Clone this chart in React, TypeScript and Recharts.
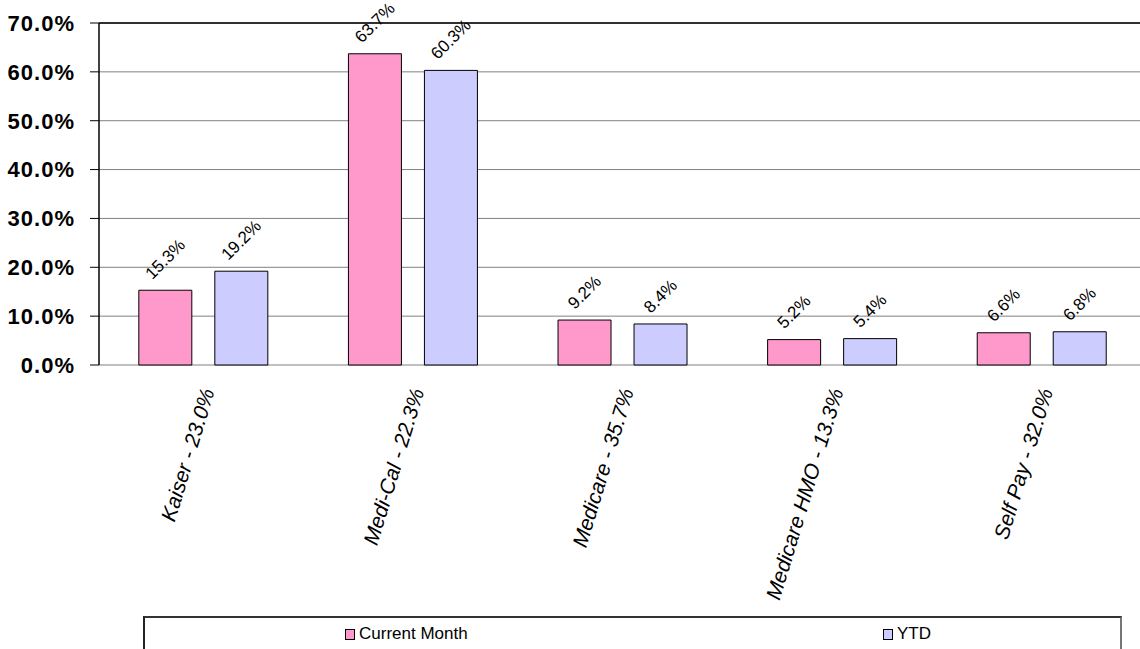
import React from 'react';
import { BarChart, Bar, XAxis, YAxis, CartesianGrid, Legend, LabelList, ReferenceLine } from 'recharts';

const categories = ['Kaiser - 23.0%', 'Medi-Cal - 22.3%', 'Medicare - 35.7%', 'Medicare HMO - 13.3%', 'Self Pay - 32.0%'];
const currentMonth = [15.3, 63.7, 9.2, 5.2, 6.6];
const ytd = [19.2, 60.3, 8.4, 5.4, 6.8];
const yTicks = [0, 10, 20, 30, 40, 50, 60, 70];
const boundaryTicks = [0, 1, 2, 3, 4, 5];
const seriesNames = ['Current Month', 'YTD'];
const seriesColors = ['#FF99CC', '#CCCCFF'];

const data = categories.map((name, i) => ({ name, current: currentMonth[i], ytd: ytd[i] }));

const FONT = '"Liberation Sans", Arial, sans-serif';

const ValueLabel = (props: any) => {
  const { x, y, width, value } = props;
  const str = Number(value).toFixed(1) + '%';
  const cx = Number(x) + Number(width) / 2;
  const off = 10 + (str.length * 9.5 + 12) / 2.83;
  const cy = Number(y) - off;
  return (
    <text
      x={cx}
      y={cy}
      transform={`rotate(-45 ${cx} ${cy})`}
      textAnchor="middle"
      dominantBaseline="central"
      fontSize={17}
      fontFamily={FONT}
      fill="#000"
    >
      {str}
    </text>
  );
};

const CatTick = (props: any) => {
  const { x, y, payload } = props;
  const ax = Number(x) + 4;
  const ay = Number(y) + 22;
  return (
    <text
      x={ax}
      y={ay}
      transform={`rotate(-73 ${ax} ${ay})`}
      textAnchor="end"
      dy="0.35em"
      fontSize={21}
      fontStyle="italic"
      fontFamily={FONT}
      fill="#000"
    >
      {payload.value}
    </text>
  );
};

const legendItemLeft = [200, 738];

const LegendContent = () => (
  <div
    style={{
      position: 'relative',
      boxSizing: 'border-box',
      width: 979,
      height: 40,
      borderTop: '2px solid #333',
      borderLeft: '2px solid #222',
      borderRight: '2px solid #777',
      fontFamily: FONT,
      fontSize: 17,
      color: '#000',
    }}
  >
    {seriesNames.map((n, i) => (
      <span
        key={n}
        style={{ position: 'absolute', left: legendItemLeft[i], top: 6, display: 'flex', alignItems: 'center', lineHeight: '20px', whiteSpace: 'nowrap' }}
      >
        <span
          style={{
            display: 'inline-block',
            width: 8,
            height: 9,
            background: seriesColors[i],
            border: '1.5px solid #000',
            marginRight: 4,
          }}
        />
        {n}
      </span>
    ))}
  </div>
);

export default function App() {
  return (
    <div style={{ position: 'absolute', left: 0, top: 0, width: 1140, height: 649, overflow: 'hidden', background: '#fff' }}>
      <BarChart
        width={1160}
        height={649}
        data={data}
        margin={{ top: 23, right: 13, left: 0, bottom: 0 }}
        barCategoryGap="19%"
        barGap={23}
      >
        <CartesianGrid xAxisId="a" vertical={false} stroke="#808080" strokeWidth={1} />
        <XAxis
          xAxisId="b"
          type="number"
          domain={[0, 5]}
          ticks={boundaryTicks}
          height={0}
          tickSize={7}
          tickFormatter={() => ''}
          axisLine={{ stroke: '#000', strokeWidth: 2 }}
          tickLine={{ stroke: '#000' }}
          allowDataOverflow
        />
        <XAxis
          xAxisId="a"
          dataKey="name"
          height={244}
          axisLine={false}
          tickLine={false}
          tickSize={0}
          interval={0}
          tick={<CatTick />}
        />
        <YAxis
          domain={[0, 70]}
          ticks={yTicks}
          width={99}
          tickSize={9}
          tickMargin={15}
          axisLine={{ stroke: '#000', strokeWidth: 1.5 }}
          tickLine={{ stroke: '#000' }}
          tick={{ fontSize: 22, fontWeight: 'bold', fill: '#000', fontFamily: FONT, style: { letterSpacing: 1 } } as any}
          tickFormatter={(v: number) => v.toFixed(1) + '%'}
        />
        <ReferenceLine xAxisId="a" y={70} stroke="#000" strokeWidth={1.5} />
        <Legend
          verticalAlign="bottom"
          content={<LegendContent />}
          wrapperStyle={{ top: 616, left: 143, width: 979, height: 40 }}
        />
        <Bar xAxisId="a" dataKey="current" name={seriesNames[0]} fill={seriesColors[0]} stroke="#000" strokeWidth={1} isAnimationActive={false}>
          <LabelList dataKey="current" content={<ValueLabel />} />
        </Bar>
        <Bar xAxisId="a" dataKey="ytd" name={seriesNames[1]} fill={seriesColors[1]} stroke="#000" strokeWidth={1} isAnimationActive={false}>
          <LabelList dataKey="ytd" content={<ValueLabel />} />
        </Bar>
      </BarChart>
    </div>
  );
}
